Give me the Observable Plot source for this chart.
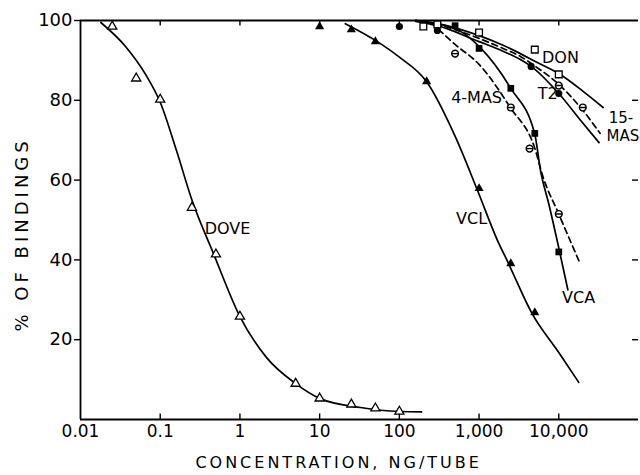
<!DOCTYPE html>
<html>
<head>
<meta charset="utf-8">
<script src="https://cdn.jsdelivr.net/npm/d3@7"></script>
<script src="https://cdn.jsdelivr.net/npm/@observablehq/plot@0.6"></script>
<style>
  html, body { margin: 0; padding: 0; background: white; }
  #chart svg { display: block; }
</style>
</head>
<body>
<div id="chart"></div>
<script>
// ---- data ----
const xTicks = [0.01, 0.1, 1, 10, 100, 1000, 10000];
const innerXTicks = [0.1, 1, 10, 100, 1000, 10000];
const yTicks = [20, 40, 60, 80, 100];
const rightYTicks = [20, 40, 60, 80];

// DOVE (open triangles)
const doveX = [0.025, 0.05, 0.1, 0.25, 0.5, 1, 5, 10, 25, 50, 100];
const doveY = [98.5, 85.5, 80.2, 53.1, 41.4, 25.8, 9.0, 5.3, 3.8, 2.8, 2.0];
const doveCurveX = [0.018, 0.0367, 0.0655, 0.1, 0.16, 0.25, 0.47, 1, 2.16, 5, 10, 32.6, 100, 190];
const doveCurveY = [99.5, 93.5, 86.5, 79.5, 67.4, 55, 41.4, 25.8, 15.5, 9, 5.3, 3.0, 2.0, 1.9];

// VCL (filled triangles)
const vclX = [10, 25, 50, 220, 1000, 2500, 5000];
const vclY = [98.5, 97.7, 94.7, 84.7, 57.9, 39.1, 26.8];
const vclCurveX = [21, 53, 100, 219, 500, 935, 1700, 2340, 4550, 10000, 17800];
const vclCurveY = [99.2, 94.7, 90.8, 84.7, 71, 57.9, 44.9, 39.1, 26.8, 16.8, 9.3];

// T2 (filled circles)
const t2X = [100, 300, 4500, 10000];
const t2Y = [98.5, 97.5, 88.5, 81.7];
const t2CurveX = [160, 300, 1000, 2000, 3300, 4500, 10000, 20000, 32000];
const t2CurveY = [99.8, 98.7, 94.7, 92.3, 90.2, 88.5, 81.7, 74.3, 69.4];

// DON (open squares)
const donX = [200, 300, 1000, 5000, 10000];
const donY = [98.5, 99, 97, 92.7, 86.5];
const donCurveX = [160, 300, 1000, 2000, 3300, 5000, 10000, 20000, 36000];
const donCurveY = [100, 99.2, 96.2, 93.8, 91.7, 89.8, 86.7, 82.3, 78.2];

// 15-MAS (barred circles, dashed)
const mas15X = [10000, 20000];
const mas15Y = [83.7, 78.2];
const mas15CurveX = [160, 300, 1000, 2000, 3300, 5000, 10000, 20000, 33000];
const mas15CurveY = [100, 99, 95.5, 93, 91, 88.6, 84, 77.5, 71.7];

// 4-MAS (barred circles, dashed)
const mas4X = [500, 2500, 4300, 10000];
const mas4Y = [91.7, 78.2, 67.9, 51.5];
const mas4CurveX = [250, 500, 1000, 2500, 5000, 6300, 10000, 18300];
const mas4CurveY = [99.5, 94, 89, 78, 68, 61, 51.5, 39.3];

// VCA (filled squares)
const vcaX = [500, 1000, 2500, 5000, 10000];
const vcaY = [98.7, 93, 83, 71.7, 42];
const vcaCurveX = [160, 500, 1000, 2500, 5000, 5900, 7500, 10000, 13000];
const vcaCurveY = [100, 98, 93.5, 83, 71.5, 62.4, 54, 43, 32.5];

// curve labels
const labelText = ["DOVE", "VCL", "VCA", "4-MAS", "T2", "DON"];
const labelX = [0.70, 805, 17700, 930, 7250, 10500];
const labelY = [47.9, 50.4, 30.6, 80.7, 81.5, 90.7];
const label15Text = ["15-", "MAS"];
const label15X = [42200, 39800];
const label15Y = [75.6, 70.9];

// axis titles
const yTitle = "% OF BINDINGS";
const xTitle = "CONCENTRATION, NG/TUBE";

// ---- helpers ----
const pts = (xs, ys) => xs.map((x, i) => ({x, y: ys[i]}));
const barredCircle = {
  draw(context, size) {
    const r = Math.sqrt(size / Math.PI);
    context.moveTo(r, 0);
    context.arc(0, 0, r, 0, 2 * Math.PI);
    context.moveTo(-r, 0);
    context.lineTo(r, 0);
  }
};
const fmtX = d => d >= 1000 ? d3.format(",")(d) : String(d);

const lineOpts = {x: "x", y: "y", curve: "monotone-x", stroke: "black", strokeWidth: 1.7};
const dashOpts = {...lineOpts, strokeDasharray: "6,4"};

const chart = Plot.plot({
  width: 640,
  height: 475,
  marginLeft: 80,
  marginRight: 2,
  marginTop: 20,
  marginBottom: 56,
  x: {type: "log", domain: [0.01, 100000], axis: null},
  y: {domain: [0, 100], axis: null},
  style: {fontFamily: "DejaVu Sans", background: "white", color: "black", overflow: "visible"},
  marks: [
    // frame lines
    Plot.ruleX([0.01], {stroke: "black", strokeWidth: 1.8}),
    Plot.ruleY([0], {stroke: "black", strokeWidth: 1.8}),
    Plot.ruleY([100], {stroke: "black", strokeWidth: 1.8}),
    // inward ticks
    Plot.ruleX(innerXTicks, {x: d => d, y1: () => 0, y2: () => 1.4, stroke: "black", strokeWidth: 1.4}),
    Plot.ruleX(innerXTicks, {x: d => d, y1: () => 100, y2: () => 98.6, stroke: "black", strokeWidth: 1.4}),
    Plot.ruleY(rightYTicks, {y: d => d, x1: () => 84000, x2: () => 100000, stroke: "black", strokeWidth: 1.4}),
    // axes with labels
    Plot.axisY(yTicks, {anchor: "left", tickSize: 6, tickPadding: 2, fontSize: 18, strokeWidth: 1.4, label: null}),
    Plot.axisX(xTicks, {anchor: "bottom", tickSize: 0, tickPadding: 5, tickFormat: fmtX, fontSize: 17, label: null}),
    // axis titles
    Plot.text([yTitle], {x: () => 0.00187, y: () => 46.4, rotate: -90, fontSize: 18, text: d => d}),
    Plot.text([xTitle], {x: () => 17.3, y: () => -10.8, fontSize: 16, text: d => d}),
    // curves
    Plot.line(pts(doveCurveX, doveCurveY), lineOpts),
    Plot.line(pts(vclCurveX, vclCurveY), lineOpts),
    Plot.line(pts(vcaCurveX, vcaCurveY), lineOpts),
    Plot.line(pts(mas4CurveX, mas4CurveY), dashOpts),
    Plot.line(pts(donCurveX, donCurveY), lineOpts),
    Plot.line(pts(t2CurveX, t2CurveY), lineOpts),
    Plot.line(pts(mas15CurveX, mas15CurveY), dashOpts),
    // points
    Plot.dot(pts(doveX, doveY), {x: "x", y: "y", symbol: "triangle", r: 3.4, fill: "white", stroke: "black", strokeWidth: 1.3}),
    Plot.dot(pts(vclX, vclY), {x: "x", y: "y", symbol: "triangle", r: 3.4, fill: "black"}),
    Plot.dot(pts(vcaX, vcaY), {x: "x", y: "y", symbol: "square", r: 3.8, fill: "black"}),
    Plot.dot(pts(donX, donY), {x: "x", y: "y", symbol: "square", r: 3.8, fill: "white", stroke: "black", strokeWidth: 1.3}),
    Plot.dot(pts(t2X, t2Y), {x: "x", y: "y", symbol: "circle", r: 3.6, fill: "black"}),
    Plot.dot(pts(mas4X, mas4Y), {x: "x", y: "y", symbol: barredCircle, r: 3.4, fill: "white", stroke: "black", strokeWidth: 1.4}),
    Plot.dot(pts(mas15X, mas15Y), {x: "x", y: "y", symbol: barredCircle, r: 3.4, fill: "white", stroke: "black", strokeWidth: 1.4}),
    // labels
    Plot.text(labelText, {x: (d, i) => labelX[i], y: (d, i) => labelY[i], text: d => d, fontSize: 16, fill: "black"}),
    Plot.text(label15Text, {x: (d, i) => label15X[i], y: (d, i) => label15Y[i], text: d => d, fontSize: 15, fill: "black", textAnchor: "start"})
  ]
});

d3.select(chart).selectAll("text")
  .filter(function() { return this.textContent === yTitle; })
  .style("letter-spacing", "4px");
d3.select(chart).selectAll("text")
  .filter(function() { return this.textContent === xTitle; })
  .style("letter-spacing", "3px");

document.getElementById("chart").appendChild(chart);
</script>
</body>
</html>
